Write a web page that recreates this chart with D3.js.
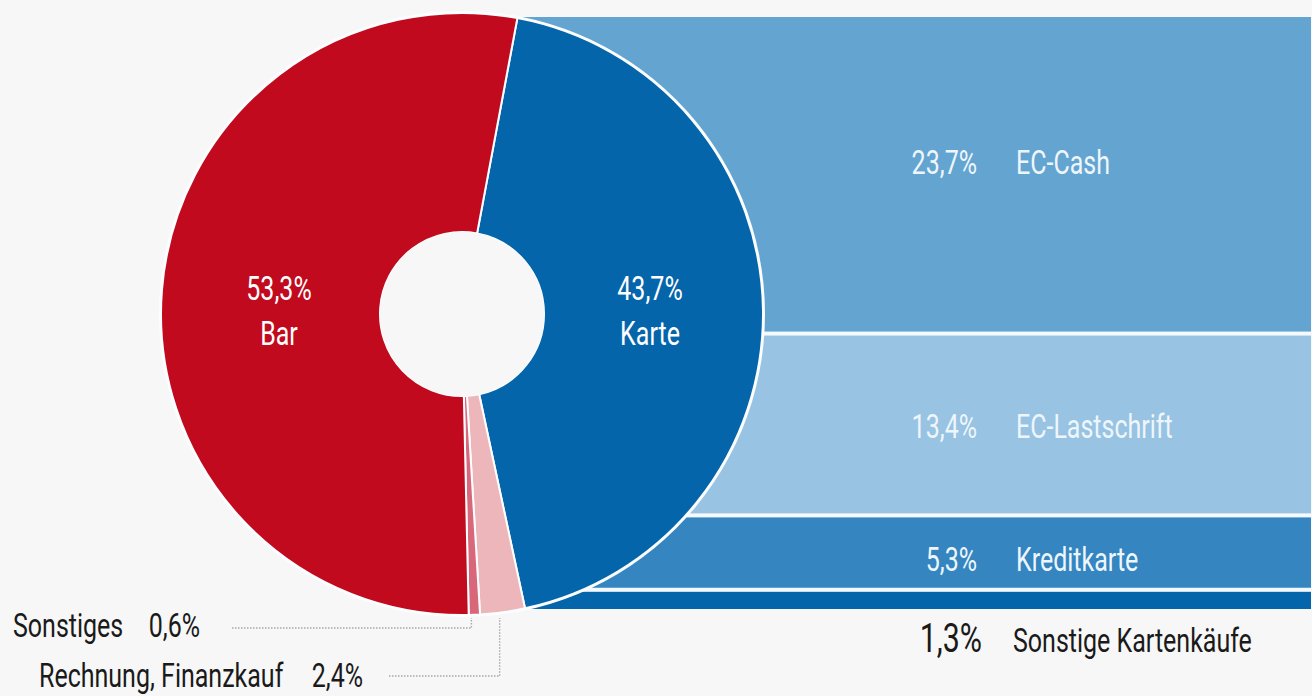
<!DOCTYPE html>
<html><head><meta charset="utf-8">
<script src="https://cdn.jsdelivr.net/npm/d3@7"></script>
<style>
html,body{margin:0;padding:0;background:#f7f7f7;}
svg{display:block;}
text{font-family:Roboto,"Liberation Sans",sans-serif;}
</style></head><body>
<svg id="c" width="1312" height="696"></svg>
<script>
// Data
const mainCats = ["Karte", "Rechnung, Finanzkauf", "Sonstiges", "Bar"];
const mainVals = [43.7, 2.4, 0.6, 53.3];
const mainColors = ["#0565ab", "#ecb6bb", "#d9677a", "#c10a1e"];
const cardCats = ["EC-Cash", "EC-Lastschrift", "Kreditkarte", "Sonstige Kartenkäufe"];
const cardVals = [23.7, 13.4, 5.3, 1.3];
const cardColors = ["#63a4d1", "#98c3e2", "#3485c0", "#0565ab"];

const fmt = v => d3.format(".1f")(v).replace(".", ",") + "%";

const svg = d3.select("#c");
const W = 1312, H = 696;
svg.append("rect").attr("width", W).attr("height", H).attr("fill", "#f7f7f7");

// condensed text helper
const FS = 33;
const probe = svg.append("text").attr("font-size", FS).text("Sonstige Kartenkäufe");
const K = 239 / probe.node().getComputedTextLength();
probe.remove();
function label(x, y, str, o = {}) {
  return svg.append("text")
    .attr("transform", `translate(${x},${y}) scale(${K},1)`)
    .attr("text-anchor", o.anchor || "start")
    .attr("font-size", o.size || FS)
    .attr("fill", o.fill || "#1a1a1a")
    .text(str);
}

const cx = 462, cy = 314, R = 301, r = 82;

// Stacked bar for card breakdown
const gap = 4;
const total = d3.sum(cardVals);
const stack = [];
let acc = 0;
cardVals.forEach((v, i) => { stack.push({cat: cardCats[i], v, i, s0: acc, s1: acc + v, color: cardColors[i]}); acc += v; });
const y = d3.scaleLinear().domain([0, total]).range([17, 609 - gap * (cardVals.length - 1)]);
const x = d3.scaleLinear().domain([0, 1]).range([cx, 1311]);
stack.forEach(d => { d.y0 = y(d.s0) + d.i * gap; d.y1 = y(d.s1) + d.i * gap; });

svg.append("g").selectAll("rect").data(stack).join("rect")
  .attr("x", x(0)).attr("width", x(1) - x(0))
  .attr("y", d => d.y0).attr("height", d => d.y1 - d.y0)
  .attr("fill", d => d.color);
// white separators
svg.append("g").selectAll("rect").data(stack.slice(1)).join("rect")
  .attr("x", x(0)).attr("width", x(1) - x(0))
  .attr("y", d => d.y0 - gap + 0.5).attr("height", gap - 1)
  .attr("fill", "#f4f9fd");

// Donut
const a0 = 0.185;
const pie = d3.pie().sort(null).startAngle(a0).endAngle(a0 + 2 * Math.PI);
const arcs = pie(mainVals).map((d, i) => Object.assign(d, {cat: mainCats[i], color: mainColors[i]}));
const arc = d3.arc().innerRadius(r).outerRadius(R);
const g = svg.append("g").attr("transform", `translate(${cx},${cy})`);
g.append("circle").attr("r", R + 2).attr("fill", "#fbfdff");
g.selectAll("path").data(arcs).join("path")
  .attr("d", arc).attr("fill", d => d.color)
  .attr("stroke", "#fbfdff").attr("stroke-width", 2).attr("stroke-linejoin", "miter");
g.append("circle").attr("r", r).attr("fill", "#f7f7f7");

// Donut labels
const karte = arcs[0], bar = arcs[3];
[[karte, 650], [bar, 279]].forEach(([d, lx]) => {
  label(lx, 300, fmt(d.data), {anchor: "middle", fill: "#fff"});
  label(lx, 345, d.cat, {anchor: "middle", fill: "#fff"});
});

// Bar labels
const cardLabelDy = [0, 14, 18];
stack.forEach((d, i) => {
  const last = i === stack.length - 1;
  const ly = last ? 652 : (d.y0 + d.y1) / 2 + cardLabelDy[i];
  const col = last ? "#1a1a1a" : "#eef6fc";
  label(last ? 982 : 977, ly, fmt(d.v), {anchor: "end", fill: col, size: last ? 40 : FS});
  label(last ? 1013 : 1016, ly, d.cat, {fill: col});
});

// Small slice leaders
const outer = d3.arc().innerRadius(R).outerRadius(R);
const small = [
  {d: arcs[2], ly: 628, lx0: 232, tx: 13, px: 200, ty: 637},
  {d: arcs[1], ly: 676, lx0: 389, tx: 39, px: 363, ty: 687}
];
small.forEach(s => {
  const [ox] = outer.centroid(s.d);
  const sx = cx + ox - 3;
  svg.append("path")
    .attr("d", `M${s.lx0},${s.ly}H${sx}V${cy + R + 3}`)
    .attr("fill", "none").attr("stroke", "#a8a8a8").attr("stroke-width", 1.4)
    .attr("stroke-dasharray", "1.5,1.5");
  label(s.tx, s.ty, s.d.cat);
  label(s.px, s.ty, fmt(s.d.data), {anchor: "end"});
});
</script>
</body></html>
